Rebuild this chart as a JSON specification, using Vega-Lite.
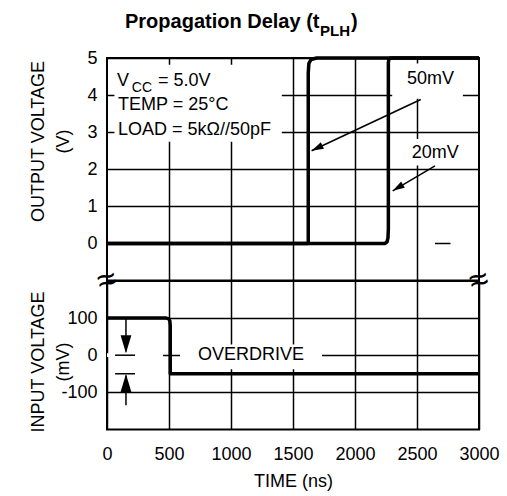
{
  "$schema": "https://vega.github.io/schema/vega-lite/v6.json",
  "background": "white",
  "padding": {"left": 27, "top": 11, "right": 5, "bottom": 5},
  "spacing": 0,
  "bounds": "flush",
  "datasets": {
    "output": [
      {"series": "50mV", "i": 0, "t": 0, "v": 0},
      {"series": "50mV", "i": 1, "t": 1623, "v": 0},
      {"series": "50mV", "i": 2, "t": 1623, "v": 4.6},
      {"series": "50mV", "i": 3, "t": 1628, "v": 4.85},
      {"series": "50mV", "i": 4, "t": 1645, "v": 4.96},
      {"series": "50mV", "i": 5, "t": 1690, "v": 5},
      {"series": "50mV", "i": 6, "t": 3000, "v": 5},
      {"series": "20mV", "i": 0, "t": 0, "v": 0},
      {"series": "20mV", "i": 1, "t": 2240, "v": 0},
      {"series": "20mV", "i": 2, "t": 2258, "v": 0.04},
      {"series": "20mV", "i": 3, "t": 2266, "v": 0.15},
      {"series": "20mV", "i": 4, "t": 2269, "v": 0.4},
      {"series": "20mV", "i": 5, "t": 2269, "v": 4.88},
      {"series": "20mV", "i": 6, "t": 2274, "v": 4.98},
      {"series": "20mV", "i": 7, "t": 2290, "v": 5},
      {"series": "20mV", "i": 8, "t": 3000, "v": 5}
    ],
    "input": [
      {"i": 0, "t": 0, "v": 100},
      {"i": 1, "t": 478, "v": 100},
      {"i": 2, "t": 498, "v": 98},
      {"i": 3, "t": 507, "v": 92},
      {"i": 4, "t": 510, "v": 80},
      {"i": 5, "t": 510, "v": -50},
      {"i": 6, "t": 3000, "v": -50}
    ],
    "topBoxes": [
      {"t": 60, "t2": 1410, "v": 2.74, "v2": 4.82},
      {"t": 2300, "t2": 2870, "v": 3.9, "v2": 4.85},
      {"t": 2400, "t2": 2890, "v": 2.1, "v2": 2.82}
    ],
    "topSegs": [
      {"t": 2530, "v": 3.88, "t2": 1650, "v2": 2.5},
      {"t": 2645, "v": 2.09, "t2": 2304, "v2": 1.42},
      {"t": 2645, "v": 0, "t2": 2770, "v2": 0}
    ],
    "topHeads": [
      {"arrow": "50mV", "t": 1650, "v": 2.5},
      {"arrow": "20mV", "t": 2304, "v": 1.42}
    ],
    "topText": [
      {"label": "V", "t": 81, "v": 4.39},
      {"label": "= 5.0V", "t": 411, "v": 4.39},
      {"label": "TEMP = 25°C", "t": 89, "v": 3.72},
      {"label": "LOAD = 5kΩ//50pF", "t": 89, "v": 3.06},
      {"label": "50mV", "t": 2419, "v": 4.43},
      {"label": "20mV", "t": 2457, "v": 2.45}
    ],
    "topSub": [{"label": "CC", "t": 200, "v": 4.2}],
    "titleMain": [
      {"label": "Propagation Delay (t", "t": 145, "v": 5.957},
      {"label": ")", "t": 1968, "v": 5.957}
    ],
    "titleSub": [{"label": "PLH", "t": 1718, "v": 5.74}],
    "bottomBoxes": [
      {"t": 589, "t2": 1734, "v": -38, "v2": 29},
      {"t": 0, "t2": 452, "v": -5, "v2": 5}
    ],
    "bottomSegs": [
      {"t": 153, "v": 100, "t2": 153, "v2": 10},
      {"t": 153, "v": -135, "t2": 153, "v2": -55},
      {"t": 65, "v": 0, "t2": 226, "v2": 0},
      {"t": 65, "v": -50, "t2": 226, "v2": -50}
    ],
    "bottomHeads": [
      {"dir": "down", "t": 153, "v": 5},
      {"dir": "up", "t": 153, "v": -51}
    ],
    "bottomText": [{"label": "OVERDRIVE", "t": 1161, "v": 0}],
    "breaks": [
      {"label": "≈", "t": 0, "v": 200},
      {"label": "≈", "t": 3000, "v": 200}
    ]
  },
  "vconcat": [
    {
      "width": 372,
      "height": 222.6,
      "encoding": {
        "x": {"field": "t", "type": "quantitative", "scale": {"domain": [0, 3000], "nice": false},
          "axis": {"values": [500, 1000, 1500, 2000, 2500], "labels": false, "title": null, "grid": true}},
        "y": {"field": "v", "type": "quantitative", "scale": {"domain": [-1, 5], "nice": false, "zero": false},
          "axis": {"values": [0, 1, 2, 3, 4, 5], "title": ["OUTPUT VOLTAGE", "(V)"], "titleX": -69, "titleY": 83,
            "titleBaseline": "middle", "titleAngle": -90, "titleLineHeight": 25, "labelPadding": 10, "grid": true,
            "gridOpacity": {"condition": {"test": "datum.value === 0", "value": 0}, "value": 1}}}
      },
      "layer": [
        {"data": {"name": "topBoxes"}, "mark": {"type": "rect", "fill": "white"},
          "encoding": {"x2": {"field": "t2"}, "y2": {"field": "v2"}}},
        {"data": {"name": "output"}, "mark": {"type": "line", "color": "black", "strokeWidth": 3.5, "strokeJoin": "round"},
          "encoding": {"detail": {"field": "series"}, "order": {"field": "i"}}},
        {"data": {"name": "topSegs"}, "mark": {"type": "rule", "color": "black", "strokeWidth": 1.5},
          "encoding": {"x2": {"field": "t2"}, "y2": {"field": "v2"}}},
        {"data": {"name": "topHeads"}, "transform": [{"filter": "datum.arrow === '50mV'"}],
          "mark": {"type": "point", "shape": "M0,0L-0.6,2L0.6,2Z", "filled": true, "color": "black", "opacity": 1, "size": 144, "angle": 244, "strokeWidth": 0}},
        {"data": {"name": "topHeads"}, "transform": [{"filter": "datum.arrow === '20mV'"}],
          "mark": {"type": "point", "shape": "M0,0L-0.6,2L0.6,2Z", "filled": true, "color": "black", "opacity": 1, "size": 144, "angle": 239, "strokeWidth": 0}},
        {"data": {"name": "topText"}, "mark": {"type": "text", "align": "left", "baseline": "middle", "fontSize": 18, "font": "Liberation Sans", "color": "black"},
          "encoding": {"text": {"field": "label"}}},
        {"data": {"name": "topSub"}, "mark": {"type": "text", "align": "left", "baseline": "middle", "fontSize": 14, "font": "Liberation Sans", "color": "black"},
          "encoding": {"text": {"field": "label"}}},
        {"data": {"name": "titleMain"}, "mark": {"type": "text", "align": "left", "baseline": "middle", "fontSize": 20, "fontWeight": "bold", "font": "Liberation Sans", "color": "black"},
          "encoding": {"text": {"field": "label"}}},
        {"data": {"name": "titleSub"}, "mark": {"type": "text", "align": "left", "baseline": "middle", "fontSize": 15, "fontWeight": "bold", "font": "Liberation Sans", "color": "black"},
          "encoding": {"text": {"field": "label"}}}
      ]
    },
    {
      "width": 372,
      "height": 148.4,
      "encoding": {
        "x": {"field": "t", "type": "quantitative", "scale": {"domain": [0, 3000], "nice": false},
          "axis": {"values": [0, 500, 1000, 1500, 2000, 2500, 3000], "format": "d", "title": "TIME (ns)", "grid": true,
            "labelPadding": 25, "labelBaseline": "middle", "labelFlush": false, "titleY": 52, "titleBaseline": "middle"}},
        "y": {"field": "v", "type": "quantitative", "scale": {"domain": [-200, 200], "nice": false},
          "axis": {"values": [-100, 0, 100], "labelExpr": "'' + datum.value", "title": ["INPUT VOLTAGE", "(mV)"], "titleX": -69, "titleY": 80.4,
            "titleBaseline": "middle", "titleAngle": -90, "titleLineHeight": 25, "labelPadding": 10, "grid": true}}
      },
      "layer": [
        {"data": {"name": "bottomBoxes"}, "mark": {"type": "rect", "fill": "white"},
          "encoding": {"x2": {"field": "t2"}, "y2": {"field": "v2"}}},
        {"data": {"name": "input"}, "mark": {"type": "line", "color": "black", "strokeWidth": 3.5, "strokeJoin": "round"},
          "encoding": {"order": {"field": "i"}}},
        {"data": {"name": "bottomSegs"}, "mark": {"type": "rule", "color": "black", "strokeWidth": 1.5},
          "encoding": {"x2": {"field": "t2"}, "y2": {"field": "v2"}}},
        {"data": {"name": "bottomHeads"}, "transform": [{"filter": "datum.dir === 'down'"}],
          "mark": {"type": "point", "shape": "M0,0L-0.6,2L0.6,2Z", "filled": true, "color": "black", "opacity": 1, "size": 324, "angle": 180, "strokeWidth": 0}},
        {"data": {"name": "bottomHeads"}, "transform": [{"filter": "datum.dir === 'up'"}],
          "mark": {"type": "point", "shape": "M0,0L-0.6,2L0.6,2Z", "filled": true, "color": "black", "opacity": 1, "size": 324, "angle": 0, "strokeWidth": 0}},
        {"data": {"name": "bottomText"}, "mark": {"type": "text", "align": "center", "baseline": "middle", "fontSize": 18, "font": "Liberation Sans", "color": "black"},
          "encoding": {"text": {"field": "label"}}},
        {"data": {"name": "breaks"}, "mark": {"type": "text", "align": "center", "baseline": "middle", "fontSize": 34, "angle": -15, "font": "Liberation Sans", "color": "black"},
          "encoding": {"text": {"field": "label"}}}
      ]
    }
  ],
  "config": {
    "view": {"stroke": "black", "strokeWidth": 2},
    "axis": {
      "labelFont": "Liberation Sans", "titleFont": "Liberation Sans", "labelFontSize": 18, "titleFontSize": 18,
      "labelColor": "black", "titleColor": "black", "titleFontWeight": "normal",
      "gridColor": "black", "gridWidth": 1.5, "gridOpacity": 1, "domain": false, "ticks": false, "tickSize": 0,
      "labelFlush": false, "labelOverlap": false
    }
  }
}
